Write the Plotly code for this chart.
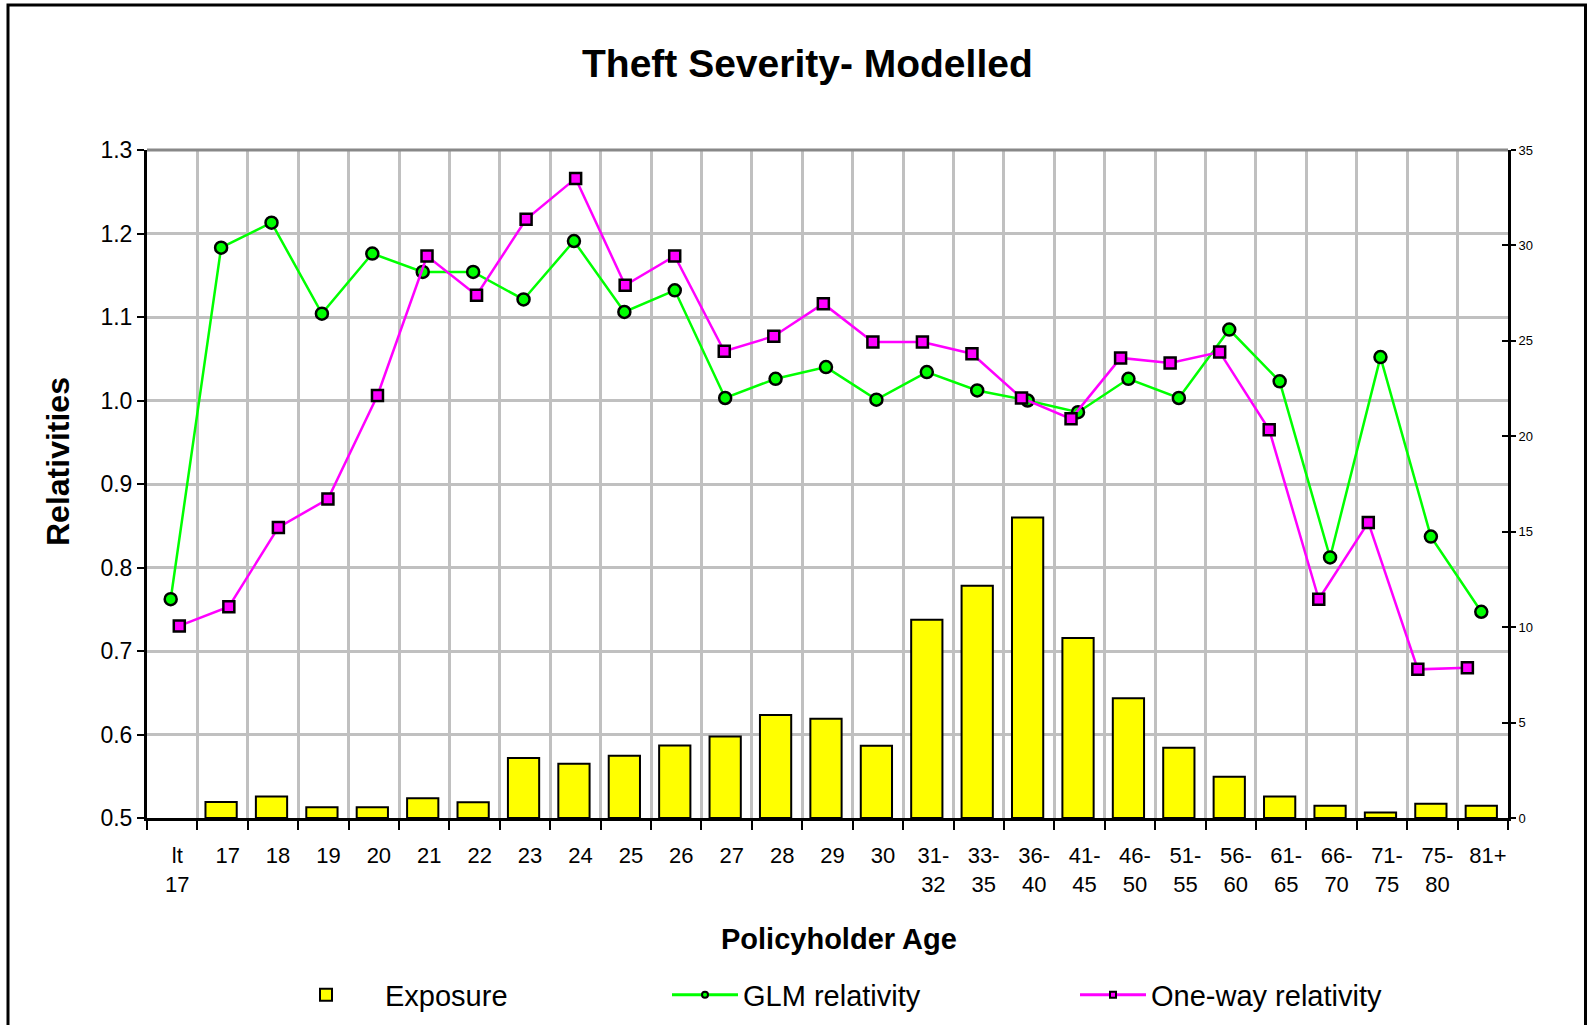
import plotly.graph_objects as go

categories = ["lt<br>17", "17", "18", "19", "20", "21", "22", "23", "24", "25", "26",
              "27", "28", "29", "30", "31-<br>32", "33-<br>35", "36-<br>40", "41-<br>45",
              "46-<br>50", "51-<br>55", "56-<br>60", "61-<br>65", "66-<br>70", "71-<br>75",
              "75-<br>80", "81+"]

exposure = [0.0, 0.84, 1.12, 0.56, 0.56, 1.03, 0.82, 3.15, 2.84, 3.26, 3.80,
            4.27, 5.40, 5.20, 3.79, 10.39, 12.17, 15.75, 9.43, 6.28, 3.68,
            2.16, 1.13, 0.64, 0.29, 0.75, 0.64]

glm_rel = [0.762, 1.183, 1.213, 1.104, 1.176, 1.154, 1.154, 1.121, 1.191, 1.106, 1.132,
           1.003, 1.026, 1.040, 1.001, 1.034, 1.012, 1.000, 0.986, 1.026, 1.003,
           1.085, 1.023, 0.812, 1.052, 0.837, 0.747]

oneway_rel = [0.730, 0.753, 0.848, 0.882, 1.006, 1.173, 1.126, 1.217, 1.266, 1.138, 1.173,
              1.059, 1.077, 1.116, 1.070, 1.070, 1.056, 1.003, 0.978, 1.051, 1.045,
              1.058, 0.965, 0.762, 0.854, 0.678, 0.680]

left_ticks = [0.5, 0.6, 0.7, 0.8, 0.9, 1.0, 1.1, 1.2, 1.3]
right_ticks = [0, 5, 10, 15, 20, 25, 30, 35]

FONT = "Liberation Sans, Arial, sans-serif"
n = len(categories)
idx = list(range(n))
x_main = [i - 0.03 for i in idx]
bar_outline = [2 if v > 0 else 0 for v in exposure]

W, H = 1587, 1025
L, R, T, B = 147, 1508, 150, 818
def px(xp):
    return (xp - L) / (R - L)
def py(yp):
    return (B - yp) / (B - T)

fig = go.Figure()

fig.add_trace(go.Bar(
    x=x_main, y=exposure, width=0.62, name="Exposure",
    marker=dict(color="#FFFF00", line=dict(color="black", width=bar_outline)),
    xaxis="x", yaxis="y", showlegend=False,
))
fig.add_trace(go.Scatter(x=[None], y=[None], xaxis="x", yaxis="y3",
                         showlegend=False, hoverinfo="skip"))
fig.add_trace(go.Scatter(
    x=x_main, y=glm_rel, mode="lines+markers", name="GLM relativity",
    line=dict(color="#00FF00", width=2.5),
    marker=dict(symbol="circle", size=12, color="#00FF00", line=dict(color="black", width=2.5)),
    xaxis="x", yaxis="y2", showlegend=False,
))
fig.add_trace(go.Scatter(
    x=idx, y=oneway_rel, mode="lines+markers", name="One-way relativity",
    line=dict(color="#FF00FF", width=2.5),
    marker=dict(symbol="square", size=11, color="#FF00FF", line=dict(color="black", width=2.5)),
    xaxis="x2", yaxis="y2", showlegend=False,
))
# legend entries
fig.add_trace(go.Bar(
    x=[None], y=[None], name="Exposure",
    marker=dict(color="#FFFF00", line=dict(color="black", width=2)),
    xaxis="x", yaxis="y", legend="legend",
))
fig.add_trace(go.Scatter(
    x=[None], y=[None], mode="lines+markers", name="GLM relativity",
    line=dict(color="#00FF00", width=3),
    marker=dict(symbol="circle", size=6, color="#00FF00", line=dict(color="black", width=2)),
    xaxis="x", yaxis="y2", legend="legend2",
))
fig.add_trace(go.Scatter(
    x=[None], y=[None], mode="lines+markers", name="One-way relativity",
    line=dict(color="#FF00FF", width=3),
    marker=dict(symbol="square", size=6, color="#FF00FF", line=dict(color="black", width=2)),
    xaxis="x2", yaxis="y2", legend="legend3",
))

grid = "#C0C0C0"
leg_y = py(995)
fig.update_layout(
    width=W, height=H,
    margin=dict(l=L, r=W - R, t=T, b=H - B, pad=0, autoexpand=False),
    paper_bgcolor="white", plot_bgcolor="white",
    font=dict(family=FONT, color="black"),
    barmode="overlay",
    xaxis=dict(
        range=[-0.5, n - 0.5], tickmode="array",
        tickvals=[i + 0.1 for i in idx], ticktext=categories,
        ticks="", showgrid=False, zeroline=False,
        showline=True, linecolor="black", linewidth=3,
        tickfont=dict(size=22, family=FONT), ticklabelstandoff=16,
        minor=dict(tick0=-0.5, dtick=1, showgrid=True, gridcolor=grid, gridwidth=2.5,
                   ticks="outside", ticklen=9, tickwidth=2, tickcolor="black"),
    ),
    xaxis2=dict(overlaying="x", range=[-0.652, 26.82], visible=False),
    yaxis=dict(
        side="right", range=[0, 35], tickmode="array", tickvals=right_ticks,
        ticks="outside", ticklen=5, tickwidth=2, tickcolor="black",
        showgrid=False, zeroline=False, showline=True, linecolor="black", linewidth=3,
        tickfont=dict(size=13, family=FONT), anchor="x",
    ),
    yaxis3=dict(
        side="right", overlaying="y", range=[0, 35], tickmode="array", tickvals=right_ticks,
        ticks="inside", ticklen=6, tickwidth=2, tickcolor="black",
        showticklabels=False, showgrid=False, zeroline=False, showline=False, anchor="x",
    ),
    yaxis2=dict(
        side="left", overlaying="y", range=[0.5, 1.3], tickmode="array", tickvals=left_ticks,
        tickformat=".1f", ticks="outside", ticklen=7, tickwidth=2, tickcolor="black",
        showgrid=True, gridcolor=grid, gridwidth=2.5, zeroline=False,
        showline=True, linecolor="black", linewidth=3,
        tickfont=dict(size=23, family=FONT), anchor="x",
    ),
    legend=dict(orientation="h", x=px(267), y=leg_y, xanchor="left", yanchor="middle",
                itemwidth=108, font=dict(size=29, family=FONT), bgcolor="rgba(0,0,0,0)"),
    legend2=dict(orientation="h", x=px(667), y=leg_y, xanchor="left", yanchor="middle",
                 itemwidth=66, font=dict(size=29, family=FONT), bgcolor="rgba(0,0,0,0)"),
    legend3=dict(orientation="h", x=px(1075), y=leg_y, xanchor="left", yanchor="middle",
                 itemwidth=66, font=dict(size=29, family=FONT), bgcolor="rgba(0,0,0,0)"),
    annotations=[
        dict(text="Theft Severity- Modelled", xref="paper", yref="paper",
             x=px(807.5), y=py(63), xanchor="center", yanchor="middle", showarrow=False,
             font=dict(size=39, family=FONT, weight="bold")),
        dict(text="Relativities", xref="paper", yref="paper", textangle=-90,
             x=px(58), y=py(462), xanchor="center", yanchor="middle", showarrow=False,
             font=dict(size=32, family=FONT, weight="bold")),
        dict(text="Policyholder Age", xref="paper", yref="paper",
             x=px(839), y=py(939), xanchor="center", yanchor="middle", showarrow=False,
             font=dict(size=29, family=FONT, weight="bold")),
    ],
    shapes=[
        dict(type="line", xref="paper", yref="paper", x0=0, x1=1, y0=1, y1=1,
             line=dict(color="#888888", width=3)),
        dict(type="rect", xref="paper", yref="paper",
             x0=px(8), x1=px(1585.5), y0=py(1040), y1=py(5),
             line=dict(color="black", width=3), fillcolor="rgba(0,0,0,0)"),
    ],
)

fig.write_html("out.html", config={"displayModeBar": False},
               post_script="document.body.style.margin='0';")
